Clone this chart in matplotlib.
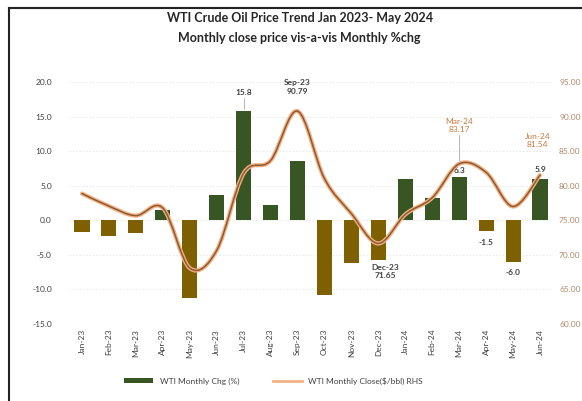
import matplotlib.pyplot as plt
from matplotlib.lines import Line2D
from matplotlib.patches import PathPatch, Patch
from matplotlib.path import Path

months = ["Jan-23", "Feb-23", "Mar-23", "Apr-23", "May-23", "Jun-23", "Jul-23",
          "Aug-23", "Sep-23", "Oct-23", "Nov-23", "Dec-23", "Jan-24", "Feb-24",
          "Mar-24", "Apr-24", "May-24", "Jun-24"]
pct_chg = [-1.7, -2.3, -1.8, 1.5, -11.3, 3.7, 15.8, 2.2, 8.6, -10.8, -6.2, -5.7,
           5.9, 3.2, 6.3, -1.5, -6.0, 5.9]
close = [78.87, 77.05, 75.67, 76.78, 68.09, 70.64, 81.80, 83.63, 90.79, 81.02,
         75.96, 71.65, 75.85, 78.26, 83.17, 81.93, 76.99, 81.54]

GREEN = "#375623"
BROWN = "#7f6000"
ORANGE = "#f4b183"
LINE_DARK = "#8c5a34"
TEXT = "#404040"

plt.rcParams["font.family"] = ["Lato", "DejaVu Sans"]


def smooth_path(xs, ys):
    # Excel-style smoothed line: cubic bezier through every point
    pts = list(zip(xs, ys))
    verts = [pts[0]]
    codes = [Path.MOVETO]
    n = len(pts)
    for i in range(n - 1):
        p0 = pts[max(i - 1, 0)]
        p1 = pts[i]
        p2 = pts[i + 1]
        p3 = pts[min(i + 2, n - 1)]
        c1 = (p1[0] + (p2[0] - p0[0]) / 6, p1[1] + (p2[1] - p0[1]) / 6)
        c2 = (p2[0] - (p3[0] - p1[0]) / 6, p2[1] - (p3[1] - p1[1]) / 6)
        verts += [c1, c2, p2]
        codes += [Path.CURVE4] * 3
    return Path(verts, codes)


fig = plt.figure(figsize=(5.82, 4.01), dpi=100, facecolor="white")
ax = fig.add_axes([0.1177, 0.192, 0.8333, 0.6035])
x = list(range(len(months)))

colors = [GREEN if v >= 0 else BROWN for v in pct_chg]
ax.bar(x, pct_chg, width=0.56, color=colors, zorder=2)
ax.set_xlim(-0.5, len(months) - 0.5)
ax.set_ylim(-15, 20)
ax.set_yticks(range(-15, 21, 5))
ax.set_yticklabels([f"{v:.1f}" for v in range(-15, 21, 5)])
ax.set_xticks(x)
ax.set_xticklabels(months, rotation=90)
ax.tick_params(axis="both", length=0, labelsize=6, colors=TEXT)
ax.tick_params(axis="y", pad=12)
ax.grid(axis="y", color="#e6e6e6", lw=0.6, ls=(0, (2, 2)), zorder=0)
for s in ax.spines.values():
    s.set_visible(False)

ax2 = ax.twinx()
ax2.set_ylim(60, 95)
ax2.set_yticks(range(60, 96, 5))
ax2.set_yticklabels([f"{v:.2f}" for v in range(60, 96, 5)])
ax2.tick_params(axis="y", length=0, labelsize=6, colors="#b08a6a", pad=4)
for s in ax2.spines.values():
    s.set_visible(False)

path = smooth_path(x, close)
ax2.add_patch(PathPatch(path, fill=False, ec=ORANGE, lw=3.0, zorder=3, capstyle="round"))
ax2.add_patch(PathPatch(path, fill=False, ec=LINE_DARK, lw=1.1, zorder=4, capstyle="round"))

# bar value labels
for i, va, off in [(6, "bottom", 2.2), (14, "bottom", 0.4), (17, "bottom", 0.9),
                   (15, "top", -1.2), (16, "top", -1.0)]:
    ax.text(x[i], pct_chg[i] + off, f"{pct_chg[i]:.1f}", ha="center", va=va,
            fontsize=6, fontweight="bold", color=TEXT, zorder=5)
ax.plot([x[6], x[6]], [pct_chg[6] + 0.3, pct_chg[6] + 1.9], color="#999999", lw=0.5)

# price labels
ax2.text(x[8], close[8] + 2.4, f"{months[8]}\n{close[8]:.2f}", ha="center", va="bottom",
         fontsize=6, fontweight="bold", color=TEXT, linespacing=1.2, zorder=5)
ax2.text(x[11] + 0.25, close[11] - 3.0, f"{months[11]}\n{close[11]:.2f}", ha="center", va="top",
         fontsize=6, fontweight="bold", color=TEXT, linespacing=1.2, zorder=5)
ax2.text(x[14], close[14] + 4.4, f"{months[14]}\n{close[14]:.2f}", ha="center", va="bottom",
         fontsize=6, color="#c97a3c", linespacing=1.2, zorder=5)
ax2.plot([x[14], x[14]], [close[14] + 0.4, close[14] + 4.2], color="#999999", lw=0.5)
ax2.text(x[17] - 0.1, close[17] + 3.9, f"{months[17]}\n{close[17]:.2f}", ha="center", va="bottom",
         fontsize=6, color="#c97a3c", linespacing=1.2, zorder=5)

fig.text(0.515, 0.955, "WTI Crude Oil Price Trend Jan 2023- May 2024", ha="center", va="center",
         fontsize=9, fontweight="bold", color="#262626")
fig.text(0.515, 0.905, "Monthly close price vis-a-vis Monthly %chg", ha="center", va="center",
         fontsize=9, fontweight="bold", color="#262626")

handles = [Patch(facecolor=GREEN), Line2D([], [], color=ORANGE, lw=2)]
fig.legend(handles, ["WTI Monthly Chg (%)", "WTI Monthly Close($/bbl) RHS"],
           loc="center", bbox_to_anchor=(0.47, 0.05), ncol=2, frameon=False,
           fontsize=6, handlelength=3.5, handleheight=0.5, columnspacing=4,
           labelcolor=TEXT)

# screenshot frame
fig.add_artist(Line2D([0.016, 1.0], [0.98, 0.98], color="#222222", lw=1.5))
fig.add_artist(Line2D([0.016, 0.016], [0.0, 0.98], color="#222222", lw=1.5))

fig.savefig("out.png", dpi=100, facecolor="white")
